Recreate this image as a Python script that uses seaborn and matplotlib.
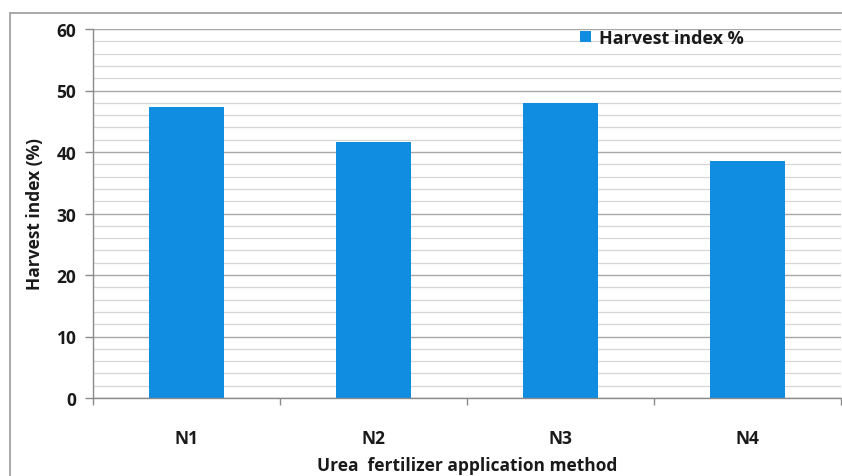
import matplotlib
matplotlib.use("Agg")
import matplotlib.pyplot as plt
from matplotlib.patches import Rectangle
from matplotlib.ticker import MultipleLocator
import seaborn as sns
import pandas as pd

# Harvest index by urea application method
methods = ["N1", "N2", "N3", "N4"]
harvest_index = [47.3, 41.6, 48.0, 38.5]
series_name = "Harvest index %"

df = pd.DataFrame({"method": methods, "hi": harvest_index,
                   "series": [series_name] * len(methods)})

sns.set_theme(style="white")
plt.rcParams["font.family"] = ["Open Sans", "DejaVu Sans"]

fig = plt.figure(figsize=(8.42, 4.77), dpi=100)
ax = fig.add_axes([93 / 842, 78 / 477, 748 / 842, 369 / 477])

sns.barplot(data=df, x="method", y="hi", hue="series", ax=ax,
            palette=["#108ce0"], width=0.4, saturation=1,
            edgecolor="none", legend=True)

ax.set_xlim(-0.5, 3.5)
ax.set_ylim(0, 60)
ax.yaxis.set_major_locator(MultipleLocator(10))
ax.yaxis.set_minor_locator(MultipleLocator(2))
ax.set_xticks([-0.5, 0.5, 1.5, 2.5, 3.5], minor=True)

ax.set_axisbelow(True)
ax.grid(which="major", axis="y", color="#a8a8a8", linewidth=1.0)
ax.grid(which="minor", axis="y", color="#d6d6d6", linewidth=0.9)
ax.grid(which="major", axis="x", visible=False)

for s in ["top", "right"]:
    ax.spines[s].set_visible(False)
for s in ["left", "bottom"]:
    ax.spines[s].set_color("#8a8a8a")
    ax.spines[s].set_linewidth(1.0)

ax.tick_params(axis="y", which="major", left=True, length=6, width=1,
               color="#8a8a8a", labelsize=12.5, pad=6)
ax.tick_params(axis="y", which="minor", left=False)
ax.tick_params(axis="x", which="major", bottom=False, labelsize=12.5, pad=16)
ax.tick_params(axis="x", which="minor", bottom=True, length=5, width=1,
               color="#8a8a8a")
for lbl in ax.get_xticklabels() + ax.get_yticklabels():
    lbl.set_fontweight("bold")
    lbl.set_color("#1a1a1a")

ax.set_xlabel("Urea  fertilizer application method", fontsize=12.5,
              fontweight="bold", color="#1a1a1a", labelpad=7)
ax.set_ylabel("Harvest index (%)", fontsize=12.5, fontweight="bold",
              color="#1a1a1a", labelpad=9)

leg = ax.legend(loc="upper left", bbox_to_anchor=(0.63, 1.045), frameon=False,
                handlelength=0.6, handleheight=0.6, handletextpad=0.4,
                prop={"size": 13, "weight": "bold"})
for t in leg.get_texts():
    t.set_color("#1a1a1a")

# chart frame
fig.patches.append(Rectangle((10 / 842, -0.1), 1.0, 0.1 + 463 / 477,
                             transform=fig.transFigure, fill=False,
                             edgecolor="#9a9a9a", linewidth=1.2, zorder=0))

fig.savefig("out.png", dpi=100)
